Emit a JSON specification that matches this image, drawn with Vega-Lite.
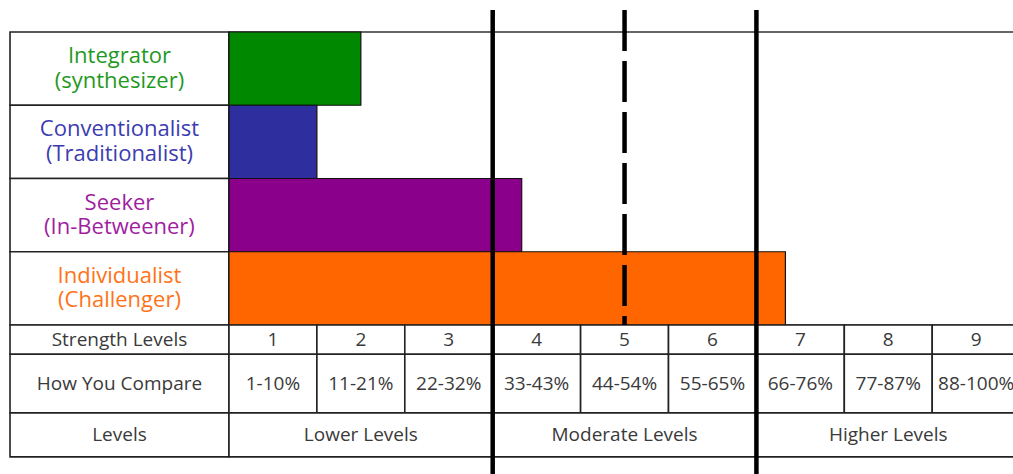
{
  "$schema": "https://vega.github.io/schema/vega-lite/v6.json",
  "width": 1013,
  "height": 474,
  "autosize": {"type": "none"},
  "padding": 0,
  "background": "white",
  "config": {"view": {"stroke": null}},
  "resolve": {"scale": {"color": "independent"}},
  "datasets": {
    "personas": [
      {"persona": "Integrator", "label": ["Integrator", "(synthesizer)"], "strength": 1.5, "base": 0, "row_top": 0, "row_bottom": 5, "row_mid": 2.5, "col_left": -2.491, "col_right": 0, "col_mid": -1.246},
      {"persona": "Conventionalist", "label": ["Conventionalist", "(Traditionalist)"], "strength": 1.0, "base": 0, "row_top": 5, "row_bottom": 10, "row_mid": 7.5, "col_left": -2.491, "col_right": 0, "col_mid": -1.246},
      {"persona": "Seeker", "label": ["Seeker", "(In-Betweener)"], "strength": 3.33, "base": 0, "row_top": 10, "row_bottom": 15, "row_mid": 12.5, "col_left": -2.491, "col_right": 0, "col_mid": -1.246},
      {"persona": "Individualist", "label": ["Individualist", "(Challenger)"], "strength": 6.33, "base": 0, "row_top": 15, "row_bottom": 20, "row_mid": 17.5, "col_left": -2.491, "col_right": 0, "col_mid": -1.246}
    ],
    "frame": [
      {"left": 0, "right": 9.5, "top": 0, "bottom": 20}
    ],
    "cells": [
      {"text": "Strength Levels", "left": -2.491, "right": 0, "xm": -1.246, "top": 20, "bottom": 22, "ym": 21},
      {"text": "How You Compare", "left": -2.491, "right": 0, "xm": -1.246, "top": 22, "bottom": 26, "ym": 24},
      {"text": "Levels", "left": -2.491, "right": 0, "xm": -1.246, "top": 26, "bottom": 29, "ym": 27.5},
      {"text": "1", "left": 0, "right": 1, "xm": 0.5, "top": 20, "bottom": 22, "ym": 21},
      {"text": "2", "left": 1, "right": 2, "xm": 1.5, "top": 20, "bottom": 22, "ym": 21},
      {"text": "3", "left": 2, "right": 3, "xm": 2.5, "top": 20, "bottom": 22, "ym": 21},
      {"text": "4", "left": 3, "right": 4, "xm": 3.5, "top": 20, "bottom": 22, "ym": 21},
      {"text": "5", "left": 4, "right": 5, "xm": 4.5, "top": 20, "bottom": 22, "ym": 21},
      {"text": "6", "left": 5, "right": 6, "xm": 5.5, "top": 20, "bottom": 22, "ym": 21},
      {"text": "7", "left": 6, "right": 7, "xm": 6.5, "top": 20, "bottom": 22, "ym": 21},
      {"text": "8", "left": 7, "right": 8, "xm": 7.5, "top": 20, "bottom": 22, "ym": 21},
      {"text": "9", "left": 8, "right": 9, "xm": 8.5, "top": 20, "bottom": 22, "ym": 21},
      {"text": "1-10%", "left": 0, "right": 1, "xm": 0.5, "top": 22, "bottom": 26, "ym": 24},
      {"text": "11-21%", "left": 1, "right": 2, "xm": 1.5, "top": 22, "bottom": 26, "ym": 24},
      {"text": "22-32%", "left": 2, "right": 3, "xm": 2.5, "top": 22, "bottom": 26, "ym": 24},
      {"text": "33-43%", "left": 3, "right": 4, "xm": 3.5, "top": 22, "bottom": 26, "ym": 24},
      {"text": "44-54%", "left": 4, "right": 5, "xm": 4.5, "top": 22, "bottom": 26, "ym": 24},
      {"text": "55-65%", "left": 5, "right": 6, "xm": 5.5, "top": 22, "bottom": 26, "ym": 24},
      {"text": "66-76%", "left": 6, "right": 7, "xm": 6.5, "top": 22, "bottom": 26, "ym": 24},
      {"text": "77-87%", "left": 7, "right": 8, "xm": 7.5, "top": 22, "bottom": 26, "ym": 24},
      {"text": "88-100%", "left": 8, "right": 9, "xm": 8.5, "top": 22, "bottom": 26, "ym": 24},
      {"text": "Lower Levels", "left": 0, "right": 3, "xm": 1.5, "top": 26, "bottom": 29, "ym": 27.5},
      {"text": "Moderate Levels", "left": 3, "right": 6, "xm": 4.5, "top": 26, "bottom": 29, "ym": 27.5},
      {"text": "Higher Levels", "left": 6, "right": 9, "xm": 7.5, "top": 26, "bottom": 29, "ym": 27.5}
    ],
    "dividers": [
      {"at": 3, "kind": "solid", "top": -1.5, "bottom": 30.17},
      {"at": 4.5, "kind": "dashed", "top": -1.5, "bottom": 20},
      {"at": 6, "kind": "solid", "top": -1.5, "bottom": 30.17}
    ]
  },
  "layer": [
    {
      "data": {"name": "personas"},
      "mark": {"type": "rect", "fill": "white", "stroke": "#222", "strokeWidth": 1.6},
      "encoding": {
        "x": {"field": "col_left", "type": "quantitative", "scale": {"domain": [-2.605, 8.919], "nice": false, "zero": false}, "axis": null},
        "x2": {"field": "col_right"},
        "y": {"field": "row_top", "type": "quantitative", "scale": {"domain": [-2.184, 30.17], "nice": false, "zero": false, "reverse": true}, "axis": null},
        "y2": {"field": "row_bottom"}
      }
    },
    {
      "data": {"name": "frame"},
      "mark": {"type": "rect", "fill": "white", "stroke": "#333", "strokeWidth": 1.6, "clip": true},
      "encoding": {
        "x": {"field": "left", "type": "quantitative", "scale": {"domain": [-2.605, 8.919], "nice": false, "zero": false}, "axis": null},
        "x2": {"field": "right"},
        "y": {"field": "top", "type": "quantitative", "scale": {"domain": [-2.184, 30.17], "nice": false, "zero": false, "reverse": true}, "axis": null},
        "y2": {"field": "bottom"}
      }
    },
    {
      "data": {"name": "personas"},
      "mark": {"type": "rect", "stroke": "#111", "strokeWidth": 1.2},
      "encoding": {
        "x": {"field": "base", "type": "quantitative", "scale": {"domain": [-2.605, 8.919], "nice": false, "zero": false}, "axis": null},
        "x2": {"field": "strength"},
        "y": {"field": "row_top", "type": "quantitative", "scale": {"domain": [-2.184, 30.17], "nice": false, "zero": false, "reverse": true}, "axis": null},
        "y2": {"field": "row_bottom"},
        "fill": {"field": "persona", "type": "nominal", "legend": null,
          "scale": {"domain": ["Integrator", "Conventionalist", "Seeker", "Individualist"], "range": ["#008800", "#2e2e9e", "#8b008b", "#ff6600"]}}
      }
    },
    {
      "data": {"name": "personas"},
      "mark": {"type": "text", "font": "Open Sans", "fontSize": 22, "lineHeight": 24.5, "baseline": "middle", "align": "center", "dy": -12.5},
      "encoding": {
        "x": {"field": "col_mid", "type": "quantitative", "scale": {"domain": [-2.605, 8.919], "nice": false, "zero": false}, "axis": null},
        "y": {"field": "row_mid", "type": "quantitative", "scale": {"domain": [-2.184, 30.17], "nice": false, "zero": false, "reverse": true}, "axis": null},
        "text": {"field": "label", "type": "nominal"},
        "color": {"field": "persona", "type": "nominal", "legend": null,
          "scale": {"domain": ["Integrator", "Conventionalist", "Seeker", "Individualist"], "range": ["#1f991f", "#3c3cb0", "#a01ea0", "#ff7318"]}}
      }
    },
    {
      "data": {"name": "cells"},
      "mark": {"type": "rect", "fill": "white", "stroke": "#222", "strokeWidth": 1.6, "clip": true},
      "encoding": {
        "x": {"field": "left", "type": "quantitative", "scale": {"domain": [-2.605, 8.919], "nice": false, "zero": false}, "axis": null},
        "x2": {"field": "right"},
        "y": {"field": "top", "type": "quantitative", "scale": {"domain": [-2.184, 30.17], "nice": false, "zero": false, "reverse": true}, "axis": null},
        "y2": {"field": "bottom"}
      }
    },
    {
      "data": {"name": "cells"},
      "mark": {"type": "text", "font": "Open Sans", "fontSize": 19, "fill": "#3a3a3a", "baseline": "middle", "align": "center", "clip": true},
      "encoding": {
        "x": {"field": "xm", "type": "quantitative", "scale": {"domain": [-2.605, 8.919], "nice": false, "zero": false}, "axis": null},
        "y": {"field": "ym", "type": "quantitative", "scale": {"domain": [-2.184, 30.17], "nice": false, "zero": false, "reverse": true}, "axis": null},
        "text": {"field": "text", "type": "nominal"}
      }
    },
    {
      "data": {"name": "dividers"},
      "transform": [{"filter": "datum.kind === 'solid'"}],
      "mark": {"type": "rule", "stroke": "black", "strokeWidth": 4.5},
      "encoding": {
        "x": {"field": "at", "type": "quantitative", "scale": {"domain": [-2.605, 8.919], "nice": false, "zero": false}, "axis": null},
        "y": {"field": "top", "type": "quantitative", "scale": {"domain": [-2.184, 30.17], "nice": false, "zero": false, "reverse": true}, "axis": null},
        "y2": {"field": "bottom"}
      }
    },
    {
      "data": {"name": "dividers"},
      "transform": [{"filter": "datum.kind === 'dashed'"}],
      "mark": {"type": "rule", "stroke": "black", "strokeWidth": 4.5, "strokeDash": [41, 10]},
      "encoding": {
        "x": {"field": "at", "type": "quantitative", "scale": {"domain": [-2.605, 8.919], "nice": false, "zero": false}, "axis": null},
        "y": {"field": "top", "type": "quantitative", "scale": {"domain": [-2.184, 30.17], "nice": false, "zero": false, "reverse": true}, "axis": null},
        "y2": {"field": "bottom"}
      }
    }
  ]
}
